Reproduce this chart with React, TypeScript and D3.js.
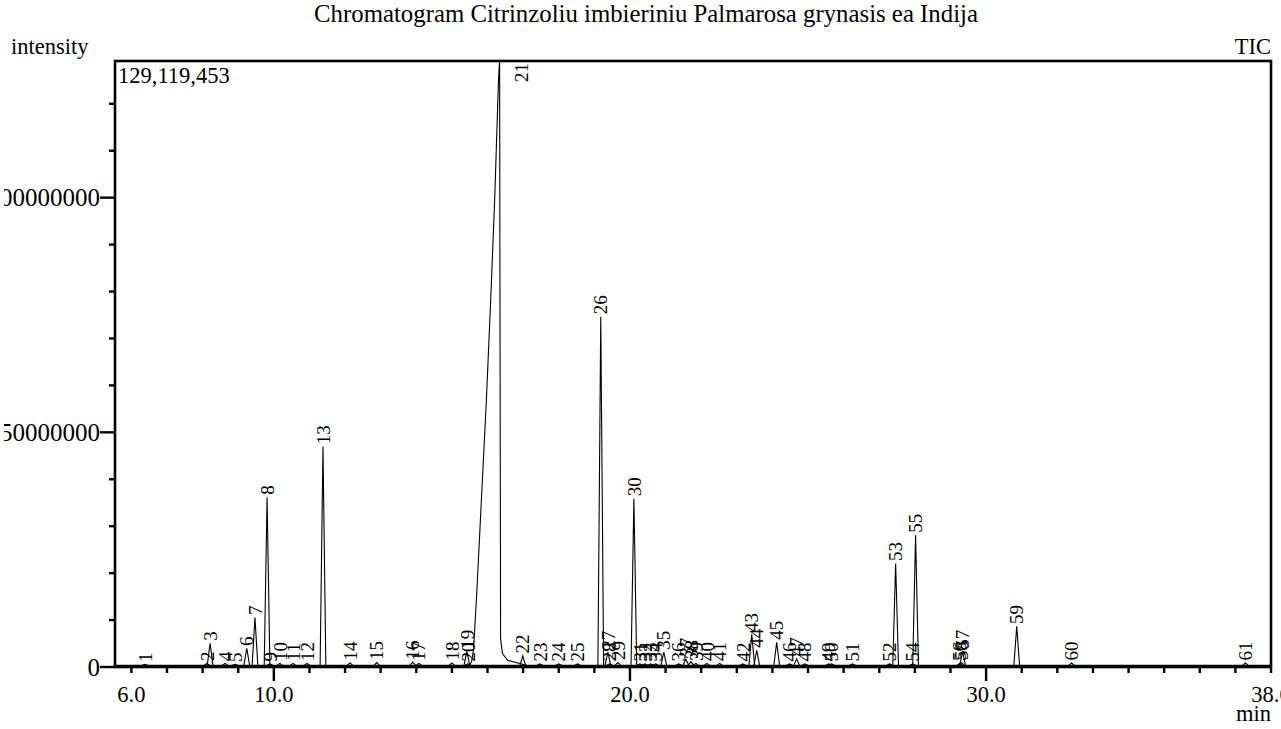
import React from "react";
import * as d3 from "d3";

const WIDTH = 1281;
const HEIGHT = 729;

// retention times (min) and apex intensities for the numbered peaks
const peakIds = d3.range(1, 62);
const peakTimes = [
  6.38, 8.12, 8.21, 8.63, 8.91, 9.24, 9.47, 9.81, 9.89, 10.17,
  10.54, 10.93, 11.38, 12.14, 12.89, 13.9, 14.07, 15.0, 15.42, 15.45,
  16.34, 16.99, 17.47, 18.0, 18.53, 19.18, 19.38, 19.43, 19.66, 20.11,
  20.28, 20.42, 20.58, 20.72, 20.95, 21.37, 21.57, 21.71, 21.85, 22.16,
  22.52, 23.17, 23.42, 23.56, 24.12, 24.48, 24.68, 24.91, 25.58, 25.66,
  26.25, 27.29, 27.46, 27.94, 28.02, 29.26, 29.34, 29.31, 30.86, 32.4,
  37.28,
];
const peakHeights = [
  0.2, 0.4, 4.7, 0.4, 0.2, 3.6, 10.2, 35.8, 0.3, 0.4,
  0.4, 0.4, 46.6, 0.5, 0.6, 0.7, 0.4, 0.5, 3.0, 0.3,
  129.119453, 2.0, 0.3, 0.3, 0.3, 74.3, 2.8, 0.3, 0.6, 35.5,
  0.3, 0.3, 0.3, 0.3, 2.8, 0.3, 1.3, 0.8, 0.4, 0.4,
  0.4, 0.3, 6.6, 3.2, 4.9, 0.3, 1.4, 0.3, 0.3, 0.3,
  0.3, 0.3, 21.7, 0.3, 27.7, 0.4, 3.0, 0.6, 8.3, 0.5,
  0.5,
].map((v) => v * 1e6);

// profile of the overloaded main peak (21): [time, intensity]
const mainPeakProfile: [number, number][] = [
  [15.5, 0], [15.555, 0.85e6], [15.61, 3.6e6], [15.69, 14.3e6],
  [15.83, 35.5e6], [15.97, 56.8e6], [16.09, 78e6], [16.2, 99e6],
  [16.31, 125e6], [16.34, 129.119453e6], [16.35, 78e6], [16.367, 5.7e6],
  [16.42, 2.5e6], [16.56, 1.1e6], [16.9, 0.4e6], [17.1, 0],
];

const xTickLabels = [6, 10, 20, 30, 38];
const xMajor = [10, 20, 30];
const yTickLabels = [0, 50000000, 100000000];

const BASE = 0.35e6;
const HALF_W = 0.08;
const FONT = "'Liberation Serif', 'Times New Roman', serif";

export default function App() {
  const x = d3.scaleLinear().domain([5.54, 38]).range([115, 1271]);
  const y = d3.scaleLinear().domain([0, 129119453]).range([667, 61]);

  const line = d3
    .line<[number, number]>()
    .x((d) => x(d[0]))
    .y((d) => y(d[1] + BASE));

  const peakPaths = peakTimes.map((t, i) => {
    if (peakIds[i] === 21) return line(mainPeakProfile);
    const h = peakHeights[i];
    return line([
      [t - HALF_W, 0],
      [t, h],
      [t + HALF_W, 0],
    ]);
  });

  const xTicks = d3.range(6, 39, 1);
  const yTicks = d3.range(0, 129e6, 10e6);

  return (
    <div style={{ position: "absolute", left: 0, top: 0 }}>
      <svg width={WIDTH} height={HEIGHT} fontFamily={FONT}>
        <defs>
          <clipPath id="plot">
            <rect x={115} y={61} width={1156} height={606} />
          </clipPath>
          <clipPath id="ylab">
            <rect x={4} y={0} width={116} height={HEIGHT} />
          </clipPath>
        </defs>
        <rect width={WIDTH} height={HEIGHT} fill="#fff" />

        <text x={646} y={22} fontSize={24.8} textAnchor="middle">
          Chromatogram Citrinzoliu imbieriniu Palmarosa grynasis ea Indija
        </text>
        <text x={11} y={54} fontSize={22.5}>
          intensity
        </text>
        <text x={1271} y={54} fontSize={22.5} textAnchor="end">
          TIC
        </text>

        {/* trace */}
        <g clipPath="url(#plot)" fill="none" stroke="#000" strokeWidth={1.1}>
          <line x1={x(5.54)} x2={x(38)} y1={y(BASE)} y2={y(BASE)} />
          {peakPaths.map((p, i) => (
            <path key={i} d={p || ""} />
          ))}
        </g>

        {/* frame */}
        <rect
          x={115}
          y={61}
          width={1156}
          height={606}
          fill="none"
          stroke="#000"
          strokeWidth={2.6}
        />

        {/* x ticks */}
        <g stroke="#000" strokeWidth={2.4}>
          {xTicks.map((t) => (
            <line
              key={t}
              x1={x(t)}
              x2={x(t)}
              y1={667}
              y2={xMajor.includes(t) ? 681 : 673}
            />
          ))}
        </g>
        <g fontSize={22.5} textAnchor="middle">
          {xTickLabels.map((t) => (
            <text key={t} x={x(t)} y={702}>
              {d3.format(".1f")(t)}
            </text>
          ))}
        </g>
        <text x={1271} y={721} fontSize={22.5} textAnchor="end">
          min
        </text>

        {/* y ticks */}
        <g stroke="#000" strokeWidth={2.4}>
          {yTicks.map((v) => (
            <line
              key={v}
              x1={yTickLabels.includes(v) ? 100 : 109}
              x2={115}
              y1={y(v)}
              y2={y(v)}
            />
          ))}
        </g>
        <g fontSize={25} textAnchor="end" clipPath="url(#ylab)">
          {yTickLabels.map((v) => (
            <text key={v} x={100} y={y(v)} dy="0.35em">
              {String(v)}
            </text>
          ))}
        </g>
        <text x={118} y={83} fontSize={22.5}>
          {d3.format(",")(129119453)}
        </text>

        {/* peak labels */}
        <g fontSize={19}>
          {peakIds.map((id, i) => {
            if (id === 21) {
              return (
                <text
                  key={id}
                  transform={`translate(${x(peakTimes[i]) + 22},63) rotate(-90)`}
                  textAnchor="end"
                  dy="0.35em"
                >
                  {id}
                </text>
              );
            }
            const px = x(peakTimes[i]);
            const py = y(peakHeights[i] + BASE) - 2.5;
            return (
              <text
                key={id}
                transform={`translate(${px},${py}) rotate(-90)`}
                dy="0.35em"
              >
                {id}
              </text>
            );
          })}
        </g>
      </svg>
    </div>
  );
}
